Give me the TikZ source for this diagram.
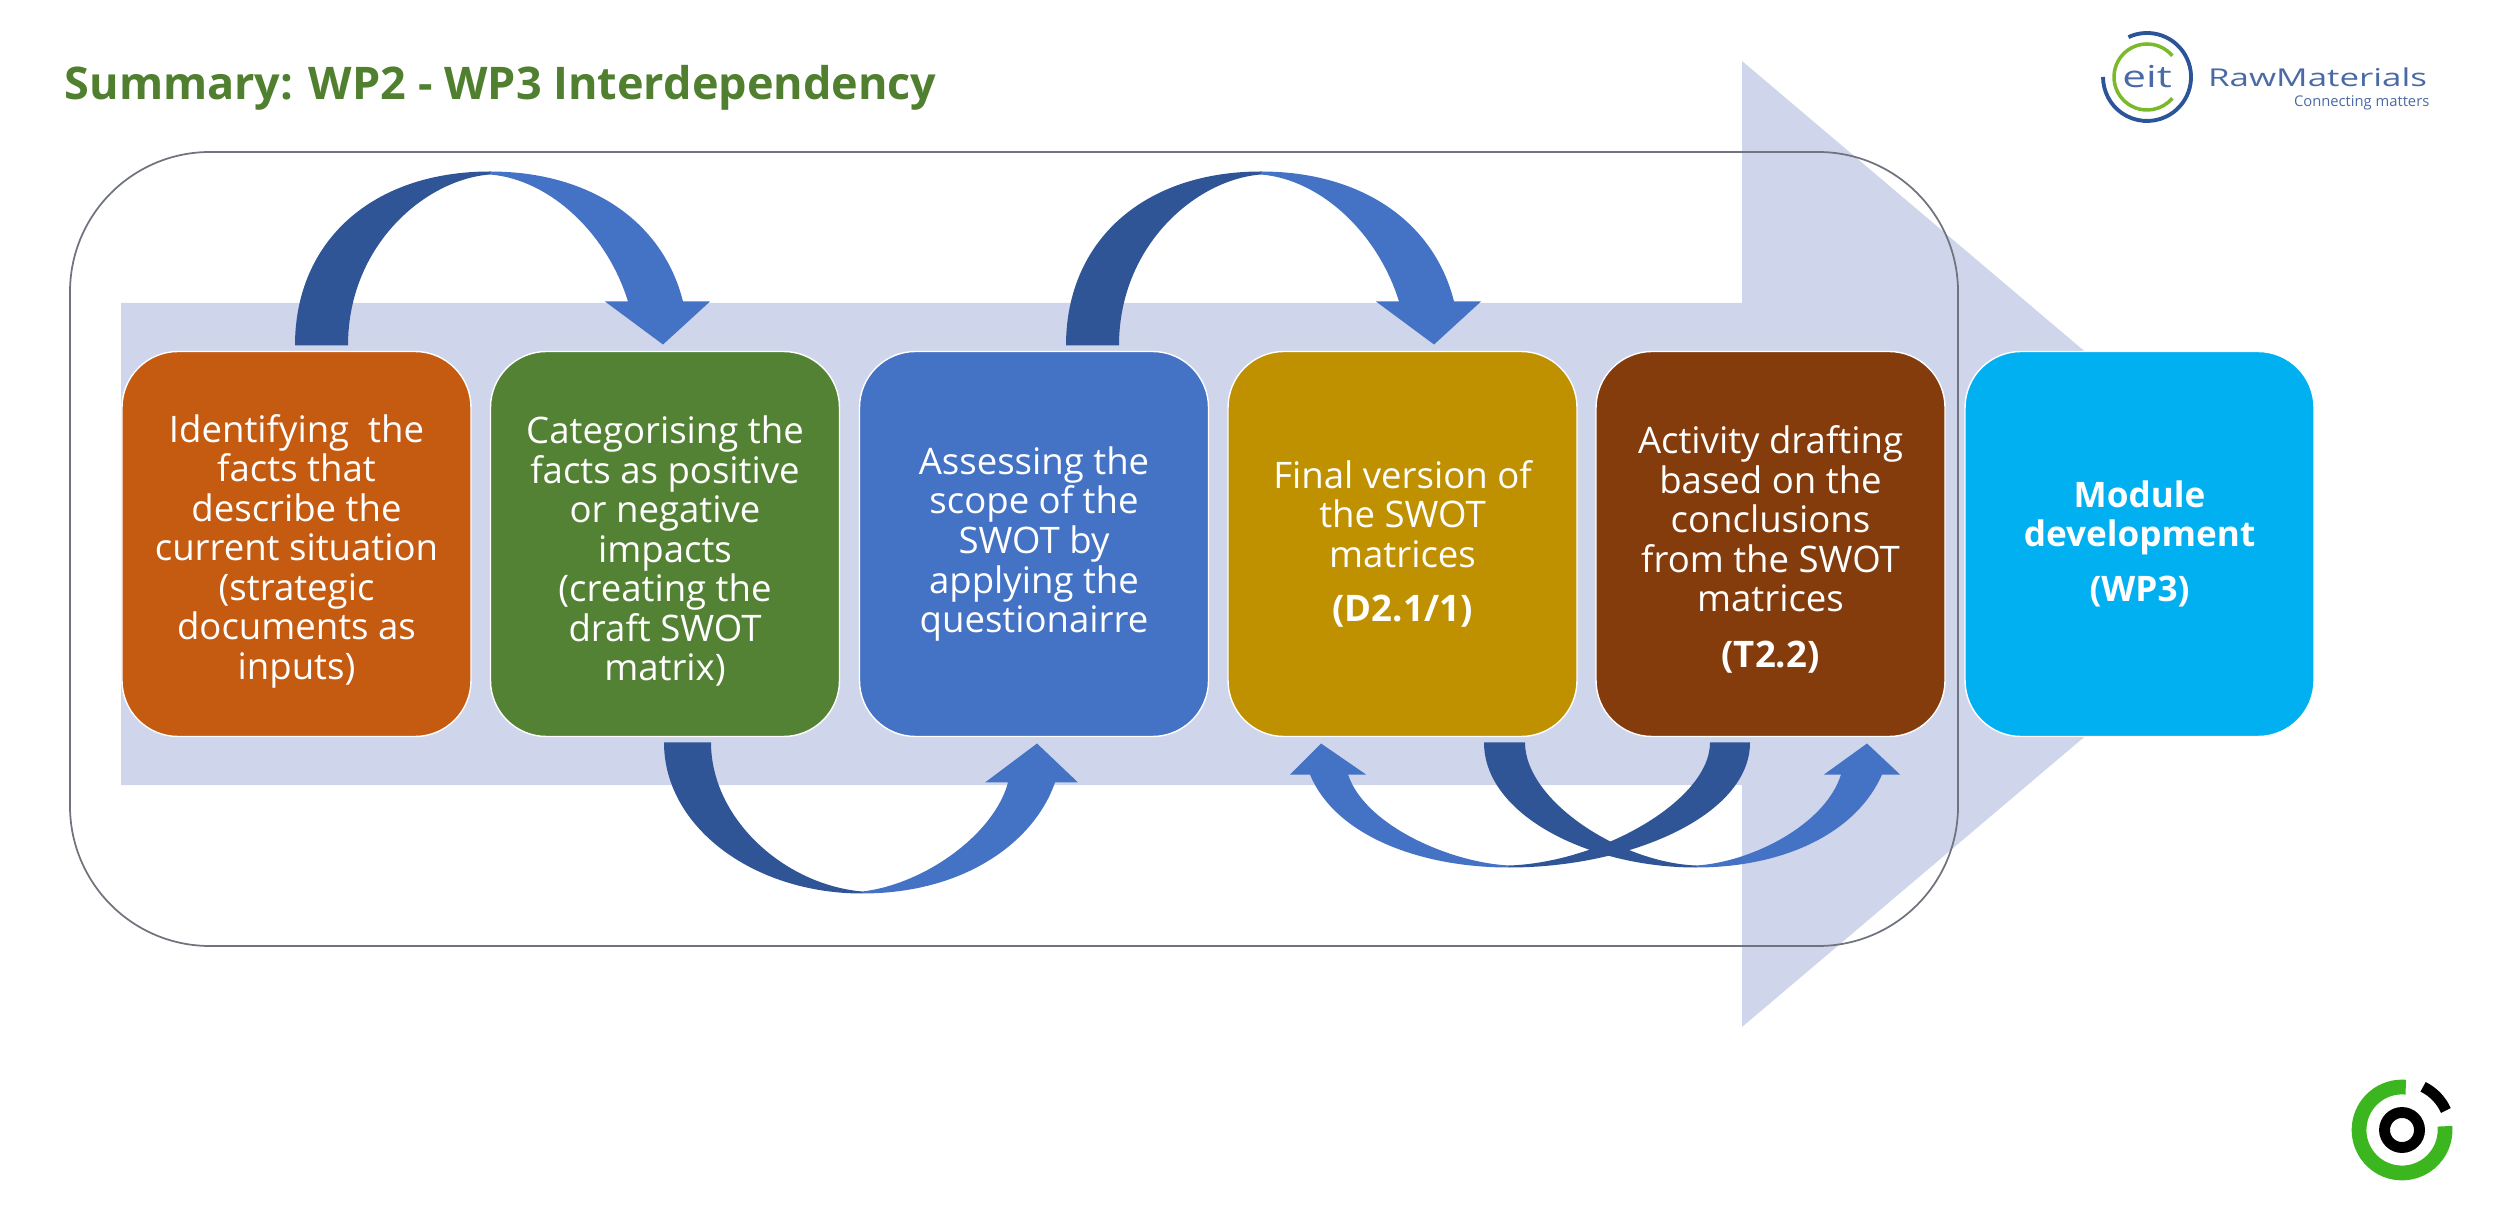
\documentclass[tikz,border=0pt]{standalone}
\usepackage{fontspec}
\setmainfont{Open Sans}
\usetikzlibrary{positioning}
\definecolor{bandblue}{HTML}{CFD5EA}
\definecolor{arcdark}{HTML}{2F5597}
\definecolor{arclight}{HTML}{4472C4}
\definecolor{titlegreen}{HTML}{4F7F2F}
\definecolor{factorange}{HTML}{C55A11}
\definecolor{draftgreen}{HTML}{548235}
\definecolor{scopeblue}{HTML}{4472C4}
\definecolor{finalgold}{HTML}{BF9000}
\definecolor{activitybrown}{HTML}{843C0C}
\definecolor{modulecyan}{HTML}{00B0F0}
\definecolor{frameline}{HTML}{70747E}
\definecolor{eitblue}{HTML}{2B5499}
\definecolor{eitgreen}{HTML}{7AB929}
\definecolor{eittext}{HTML}{4A6AA5}
\definecolor{ringgreen}{HTML}{3CB61E}
\tikzset{
  stagebox/.style={draw=white,line width=0.4pt,rounded corners=0.56cm,outer sep=0pt,
    minimum width=3.49cm,minimum height=3.85cm,inner sep=0pt,align=center,text=white,
    font=\fontsize{10.4}{11.25}\selectfont},
}
\newcommand{\toparc}[1]{
\begin{scope}[shift={(#1)}]
\fill[arcdark] (0,0) .. controls (0,1.05) and (0.78,1.74) .. (1.95,1.74) -- (1.95,1.71) .. controls (1.30,1.66) and (0.53,1.00) .. (0.53,0) -- cycle;
\fill[arclight] (1.95,1.74) .. controls (2.95,1.74) and (3.68,1.24) .. (3.88,0.44) -- (4.15,0.44) -- (3.68,0.01) -- (3.10,0.44) -- (3.33,0.44) .. controls (3.12,1.12) and (2.55,1.66) .. (1.95,1.71) -- cycle;
\end{scope}
}
\begin{document}
\begin{tikzpicture}
\useasboundingbox (0,0) rectangle (24.95,12.15);
\fill[bandblue] (1.21,9.12) -- (17.42,9.12) -- (17.42,11.54) -- (23.12,6.71) -- (17.42,1.88) -- (17.42,4.30) -- (1.21,4.30) -- cycle;
\draw[frameline,line width=0.5pt,rounded corners=1.4cm] (0.70,2.69) rectangle (19.58,10.63);
\path(0.64,11.27) node[anchor=west,inner sep=0pt,text=titlegreen,font=\fontsize{12.8}{14}\bfseries\selectfont] (wptitle) {Summary: WP2 - WP3 Interdependency};
\path(2.965,6.71) node[stagebox,fill=factorange] (identify) {\rule{0pt}{12pt}Identifying~ the\\facts that\\describe the\\current situation\\(strategic\\documents as\\inputs)};
\path(6.65,6.71) node[stagebox,fill=draftgreen] (categorise) {\rule{0pt}{12pt}Categorising the\\facts as positive\\or negative\\impacts\\(creating the\\draft SWOT\\matrix)};
\path(10.34,6.71) node[stagebox,fill=scopeblue] (assess) {Assessing the\\scope of the\\SWOT by\\applying the\\questionairre};
\path(14.025,6.71) node[stagebox,fill=finalgold] (final) {Final version of\\the SWOT\\matrices\\[4.2pt]\textbf{(D2.1/1)}};
\path(17.705,6.71) node[stagebox,fill=activitybrown] (activity) {\rule{0pt}{11pt}Activity drafting\\based on the\\conclusions\\from the SWOT\\matrices\\[4.6pt]\textbf{(T2.2)}};
\path(21.395,6.71) node[stagebox,fill=modulecyan,font=\fontsize{10}{11.2}\selectfont] (module) {\textbf{Module}\\\textbf{development}\\[4.4pt]\textbf{(WP3)}};
\coordinate (upone) at ([xshift=-0.015cm,yshift=0.06cm]identify.north);
\coordinate (uptwo) at ([xshift=0.32cm,yshift=0.06cm]assess.north);
\toparc{upone}
\toparc{uptwo}
\coordinate (lowone) at ([xshift=-0.01cm,yshift=-0.06cm]categorise.south);
\begin{scope}[shift={(lowone)}]
\fill[arcdark] (0,0) .. controls (0,-0.85) and (0.90,-1.51) .. (1.98,-1.51) -- (1.98,-1.49) .. controls (1.20,-1.42) and (0.47,-0.76) .. (0.47,0) -- cycle;
\fill[arclight] (1.98,-1.51) .. controls (3.00,-1.51) and (3.70,-1.00) .. (3.91,-0.40) -- (4.14,-0.40) -- (3.73,-0.01) -- (3.21,-0.40) -- (3.44,-0.40) .. controls (3.30,-0.92) and (2.60,-1.42) .. (1.98,-1.49) -- cycle;
\end{scope}
\coordinate (lowtwo) at ([xshift=-0.205cm,yshift=-0.06cm]activity.south);
\begin{scope}[shift={(lowtwo)}]
\fill[arcdark] (0,0) .. controls (0,-0.73) and (-1.20,-1.25) .. (-2.41,-1.25) -- (-2.41,-1.23) .. controls (-1.50,-1.20) and (-0.40,-0.58) .. (-0.40,0) -- cycle;
\fill[arclight] (-2.41,-1.25) .. controls (-3.30,-1.25) and (-4.15,-0.93) .. (-4.40,-0.32) -- (-4.60,-0.32) -- (-4.29,-0.01) -- (-3.84,-0.32) -- (-4.02,-0.32) .. controls (-3.85,-0.83) and (-3.00,-1.20) .. (-2.41,-1.23) -- cycle;
\end{scope}
\coordinate (lowthree) at ([xshift=0.815cm,yshift=-0.06cm]final.south);
\begin{scope}[shift={(lowthree)}]
\fill[arcdark] (0,0) .. controls (0,-0.73) and (1.06,-1.25) .. (2.12,-1.25) -- (2.12,-1.23) .. controls (1.36,-1.20) and (0.41,-0.58) .. (0.41,0) -- cycle;
\fill[arclight] (2.12,-1.25) .. controls (2.96,-1.25) and (3.71,-0.93) .. (3.98,-0.32) -- (4.16,-0.32) -- (3.83,-0.01) -- (3.40,-0.32) -- (3.57,-0.32) .. controls (3.41,-0.83) and (2.66,-1.20) .. (2.12,-1.23) -- cycle;
\end{scope}
\draw[eitblue,line width=1.1pt] ({21.47+0.44*cos(115)},{11.38+0.44*sin(115)}) arc (115:-180:0.44);
\draw[eitgreen,line width=1pt] ({21.47+0.33*cos(40)},{11.38+0.33*sin(40)}) arc (40:320:0.33);
\path(21.47,11.38) node[inner sep=0pt,text=eittext,xscale=1.4,transform shape,font=\fontsize{8.6}{10}\selectfont] (eitname) {eit};
\path(22.07,11.38) node[anchor=west,inner sep=0pt,text=eittext,xscale=1.42,transform shape,font=\fontsize{7}{9}\selectfont] (rawname) {RawMaterials};
\path(24.30,11.12) node[anchor=east,inner sep=0pt,text=eittext,font=\fontsize{4.2}{5}\selectfont] (rawtag) {Connecting matters};
\draw[ringgreen,line width=4.2pt] ({24.02+0.43*cos(85)},{0.85+0.43*sin(85)}) arc (85:365:0.43);
\draw[black,line width=3.1pt] (24.02,0.85) circle (0.175);
\draw[black,line width=3.1pt] ({24.02+0.48*cos(64)},{0.85+0.48*sin(64)}) arc (64:24:0.48);
\end{tikzpicture}
\end{document}
